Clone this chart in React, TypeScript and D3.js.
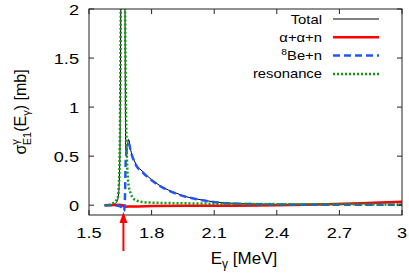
import React from 'react';
import * as d3 from 'd3';

const WIDTH = 409;
const HEIGHT = 274;

// [E_gamma (MeV), sigma (mb)]
const totalPts: [number, number][] = [
  [1.575, 0], [1.6, 0.002], [1.62, 0.01], [1.635, 0.04], [1.642, 0.12], [1.648, 0.5],
  [1.653, 2.3], [1.66, 5.0], [1.668, 3.5], [1.672, 2.2], [1.676, 0.56], [1.683, 0.6],
  [1.69, 0.67], [1.7, 0.56], [1.72, 0.44], [1.759, 0.34], [1.8, 0.26], [1.84, 0.2],
  [1.88, 0.155], [1.922, 0.12], [1.96, 0.09], [2.0, 0.07], [2.08, 0.04], [2.16, 0.022],
  [2.3, 0.012], [2.45, 0.008], [2.6, 0.01], [2.8, 0.018], [3.0, 0.03],
];
const alphaPts: [number, number][] = [
  [1.575, 0], [1.62, 0.002], [1.645, 0.004], [1.66, 0], [1.672, -0.016], [1.7, -0.013],
  [1.8, -0.009], [2.0, -0.006], [2.2, -0.005], [2.4, -0.001], [2.6, 0.008], [2.8, 0.02],
  [3.0, 0.035],
];
const beNPts: [number, number][] = [
  [1.575, 0], [1.62, -0.002], [1.645, -0.008], [1.66, -0.03], [1.668, -0.06], [1.672, 0.05],
  [1.676, 0.45], [1.684, 0.6], [1.692, 0.62], [1.7, 0.55], [1.72, 0.43], [1.759, 0.33],
  [1.8, 0.255], [1.84, 0.195], [1.88, 0.15], [1.922, 0.115], [1.96, 0.088], [2.0, 0.068],
  [2.08, 0.038], [2.16, 0.02], [2.3, 0.01], [2.45, 0.006], [2.6, 0.005], [2.8, 0.005],
  [3.0, 0.005],
];
const resonancePts: [number, number][] = [
  [1.575, 0], [1.6, 0.005], [1.615, 0.02], [1.638, 0.08], [1.645, 0.3], [1.65, 1.2],
  [1.653, 2.3], [1.662, 5.0], [1.672, 2.2], [1.677, 1.0], [1.682, 0.46], [1.69, 0.2],
  [1.7, 0.12], [1.71, 0.075], [1.73, 0.045], [1.76, 0.032], [1.8, 0.026], [2.0, 0.018],
  [2.5, 0.01], [3.0, 0.008],
];

const xTicks = [1.5, 1.8, 2.1, 2.4, 2.7, 3];
const yTicks = [0, 0.5, 1, 1.5, 2];
const thresholdE = 1.665;

const series = [
  { label: 'Total', pts: totalPts, color: '#000000', width: 1, dash: '' },
  { label: 'α+α+n', pts: alphaPts, color: '#ff0000', width: 2.5, dash: '' },
  { label: 'Be+n', pts: beNPts, color: '#2255ff', width: 2.5, dash: '7,4' },
  { label: 'resonance', pts: resonancePts, color: '#119911', width: 2.5, dash: '2,2' },
];

const margin = { top: 9, right: 7, bottom: 59, left: 89 };
const FONT = 'Liberation Sans, Arial, Helvetica, sans-serif';
const TICK_STRETCH = 1.3; // tick labels in the original are drawn wide

export default function App() {
  const x = d3.scaleLinear().domain([1.5, 3]).range([margin.left, WIDTH - margin.right]);
  const y = d3.scaleLinear().domain([-0.1, 2]).range([HEIGHT - margin.bottom, margin.top]);
  const line = d3
    .line<[number, number]>()
    .x((d) => x(d[0]))
    .y((d) => y(d[1]))
    .curve(d3.curveMonotoneX);

  const [x0, x1] = x.range();
  const [yb, yt] = y.range();
  const tick = 5;
  const ax = x(thresholdE);

  return (
    <svg width={WIDTH} height={HEIGHT} style={{ position: 'absolute', left: 0, top: 0 }} fontFamily={FONT}>
      <defs>
        <clipPath id="plot">
          <rect x={x0} y={yt} width={x1 - x0} height={yb - yt} />
        </clipPath>
      </defs>
      <rect width={WIDTH} height={HEIGHT} fill="white" />

      {/* curves */}
      <g clipPath="url(#plot)" fill="none">
        {series.map((s) => (
          <path
            key={s.label}
            d={line(s.pts) || ''}
            stroke={s.color}
            strokeWidth={s.width}
            strokeDasharray={s.dash || undefined}
          />
        ))}
      </g>

      {/* frame + ticks */}
      <rect x={x0} y={yt} width={x1 - x0} height={yb - yt} fill="none" stroke="#222" strokeWidth={1} />
      <g stroke="#222" strokeWidth={1}>
        {xTicks.map((t) => (
          <g key={'x' + t}>
            <line x1={x(t)} x2={x(t)} y1={yb} y2={yb - tick} />
            <line x1={x(t)} x2={x(t)} y1={yt} y2={yt + tick} />
          </g>
        ))}
        {yTicks.map((t) => (
          <g key={'y' + t}>
            <line x1={x0} x2={x0 + tick} y1={y(t)} y2={y(t)} />
            <line x1={x1} x2={x1 - tick} y1={y(t)} y2={y(t)} />
          </g>
        ))}
      </g>
      <g fontSize={14} fill="#000">
        {xTicks.map((t) => (
          <text
            key={'xl' + t}
            transform={`translate(${x(t)},238) scale(${TICK_STRETCH},1)`}
            textAnchor="middle"
          >
            {String(t)}
          </text>
        ))}
        {yTicks.map((t) => (
          <text
            key={'yl' + t}
            transform={`translate(${x0 - 10},${y(t) + 5.5}) scale(${TICK_STRETCH},1)`}
            textAnchor="end"
          >
            {String(t)}
          </text>
        ))}
      </g>

      {/* axis titles */}
      <text x={244} y={264} textAnchor="middle" fontSize={17}>
        E<tspan fontSize={12} dy={4}>γ</tspan>
        <tspan dy={-4}> [MeV]</tspan>
      </text>
      <text transform="translate(26,112) rotate(-90)" textAnchor="middle" fontSize={16}>
        σ<tspan fontSize={11} dy={-7}>γ</tspan>
        <tspan fontSize={11} dx={-6} dy={12}>E1</tspan>
        <tspan dy={-5}>(E</tspan>
        <tspan fontSize={11} dy={4}>γ</tspan>
        <tspan dy={-4}>) [mb]</tspan>
      </text>

      {/* legend */}
      <g fontSize={13}>
        {series.map((s, i) => {
          const ly = 19 + i * 18.3;
          return (
            <g key={'lg' + s.label}>
              <text transform={`translate(322,${ly + 4.5}) scale(1.14,1)`} textAnchor="end">
                {s.label === 'Be+n' ? (
                  <>
                    <tspan fontSize={9} dy={-5}>8</tspan>
                    <tspan dy={5}>Be+n</tspan>
                  </>
                ) : (
                  s.label
                )}
              </text>
              <line
                x1={333}
                x2={379}
                y1={ly}
                y2={ly}
                stroke={s.color}
                strokeWidth={s.width}
                strokeDasharray={s.dash || undefined}
              />
            </g>
          );
        })}
      </g>

      {/* threshold arrow */}
      <line x1={ax} x2={ax} y1={251} y2={220} stroke="#ff0000" strokeWidth={2} />
      <path d={`M${ax},212 L${ax - 4},223 L${ax + 4},223 Z`} fill="#ff0000" />
    </svg>
  );
}
